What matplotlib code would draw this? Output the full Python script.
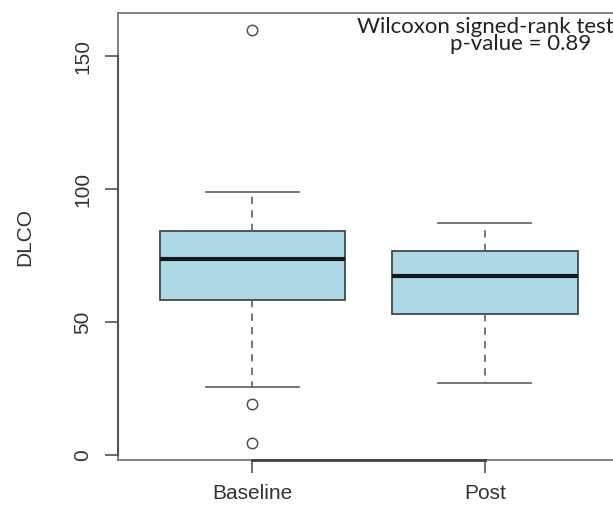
from matplotlib import pyplot as plt

# DLCO before / after, R-style boxplot
groups = ["Baseline", "Post"]
q1 = [58.4, 53.2]
med = [73.8, 67.5]
q3 = [84.3, 76.8]
whislo = [25.7, 27.2]
whishi = [99.1, 87.2]
fliers = [[159.9, 19.1, 4.4], []]
yticks = [0, 50, 100, 150]

W, H = 613, 508
fig = plt.figure(figsize=(W / 100, H / 100), dpi=100)
ax = fig.add_axes([117.7 / W, 1 - 460 / H, 502 / W, (460 - 13.3) / H])

stats = [
    dict(label=g, q1=a, med=m, q3=b, whislo=lo, whishi=hi, fliers=f)
    for g, a, m, b, lo, hi, f in zip(groups, q1, med, q3, whislo, whishi, fliers)
]
ax.bxp(
    stats,
    positions=[1, 2],
    widths=0.8,
    capwidths=0.4,
    patch_artist=True,
    showfliers=True,
    boxprops=dict(facecolor="#add8e6", edgecolor="#3f4a4d", linewidth=1.3),
    medianprops=dict(color="#111a1c", linewidth=3),
    whiskerprops=dict(color="#6a6a6a", linewidth=1.3, linestyle=(0, (4, 3.5))),
    capprops=dict(color="#6a6a6a", linewidth=1.3),
    flierprops=dict(marker="o", markerfacecolor="none", markeredgecolor="#555555",
                    markersize=7.5, markeredgewidth=1.1),
)

# R's default 4% axis extension
vals = [v for f in fliers for v in f] + whislo + whishi
lo, hi = min(vals), max(vals)
pad = 0.04 * (hi - lo)
ax.set_ylim(lo - pad, hi + pad)
ax.set_xlim(0.42, 2.58)

for s in ax.spines.values():
    s.set_color("#777777")
    s.set_linewidth(1.3)

# darker axis lines between the outer ticks, like R's axis()
ax.plot([1, 2], [lo - pad] * 2, color="#444444", lw=2, clip_on=False, zorder=5)
ax.plot([0.42, 0.42], [yticks[0], yticks[-1]], color="#555555", lw=1.5,
        clip_on=False, zorder=5)

ax.set_xticks([1, 2])
ax.set_xticklabels(groups)
ax.set_yticks(yticks)
ax.tick_params(axis="both", length=9.5, width=1.2, color="#555555",
               labelsize=15, labelcolor="#333333")
ax.tick_params(axis="x", pad=8)
ax.tick_params(axis="y", pad=9)
for t in ax.get_yticklabels():
    t.set_rotation(90)
    t.set_va("center")
for t in ax.get_xticklabels() + ax.get_yticklabels():
    t.set_family("Liberation Sans")

ax.set_ylabel("DLCO", fontsize=15, color="#333333", family="Liberation Sans")
ax.yaxis.set_label_coords(-0.166, 0.5)

# test annotation (two lines, second one right-padded to sit under "signed-rank test")
fig.text(614 / W, 1 - 49.5 / H, "Wilcoxon signed-rank test\np-value = 0.89    ",
         family="Lato", fontsize=16, color="#222222", va="baseline", ha="right",
         multialignment="right", linespacing=0.8)

plt.savefig("out.png", dpi=100)
